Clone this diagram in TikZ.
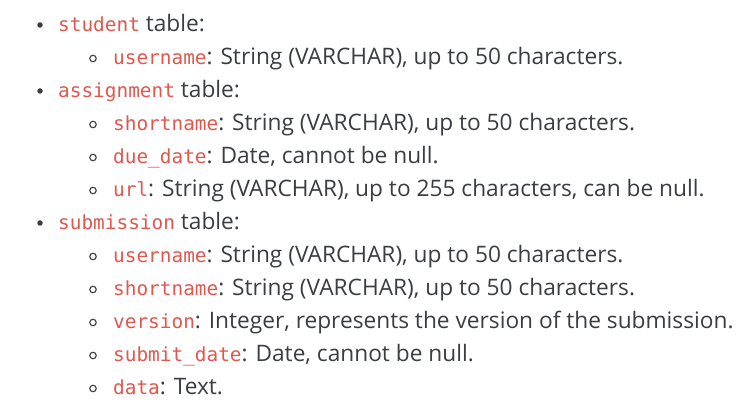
\documentclass[tikz,border=0pt]{standalone}
\usepackage{fontspec}
\setmainfont{Open Sans}
\setmonofont{DejaVu Sans Mono}
\definecolor{codered}{HTML}{E0574E}
\definecolor{txtgray}{HTML}{3A3D42}
\newcommand{\fld}[1]{\textcolor{codered}{\ttfamily\fontsize{19.4}{19}\selectfont #1}}

\begin{document}
\begin{tikzpicture}[x=1pt,y=-1pt,
  item/.style={anchor=base west, inner sep=0, text=txtgray, font=\fontsize{22.7}{23}\selectfont},
  dotfull/.style={fill=txtgray, circle, inner sep=0, minimum size=5.5pt},
  dothollow/.style={draw=txtgray, line width=1.1pt, circle, inner sep=0, minimum size=6.5pt}]
\useasboundingbox (0,0) rectangle (753,419);
% tables
\node[dotfull] (b1) at (40,25) {};
\node[item] (t1) at (58,31.5) {\fld{student} table:};
\node[dotfull] (b3) at (40,91) {};
\node[item] (t3) at (58,97.5) {\fld{assignment} table:};
\node[dotfull] (b7) at (40,223) {};
\node[item] (t7) at (58,229.5) {\fld{submission} table:};
% columns
\foreach \n/\txt in {2/{\fld{username}: String (VARCHAR), up to 50 characters.},
  4/{\fld{shortname}: String (VARCHAR), up to 50 characters.},
  5/{\fld{due\_date}: Date, cannot be null.},
  6/{\fld{url}: String (VARCHAR), up to 255 characters, can be null.},
  8/{\fld{username}: String (VARCHAR), up to 50 characters.},
  9/{\fld{shortname}: String (VARCHAR), up to 50 characters.},
  10/{\fld{version}: Integer, represents the version of the submission.},
  11/{\fld{submit\_date}: Date, cannot be null.},
  12/{\fld{data}: Text.}} {
 \node[dothollow] (b\n) at (93,{25.5+33*(\n-1)}) {};
 \node[item] (t\n) at (113,{31.5+33*(\n-1)}) {\txt};
}
\end{tikzpicture}
\end{document}
